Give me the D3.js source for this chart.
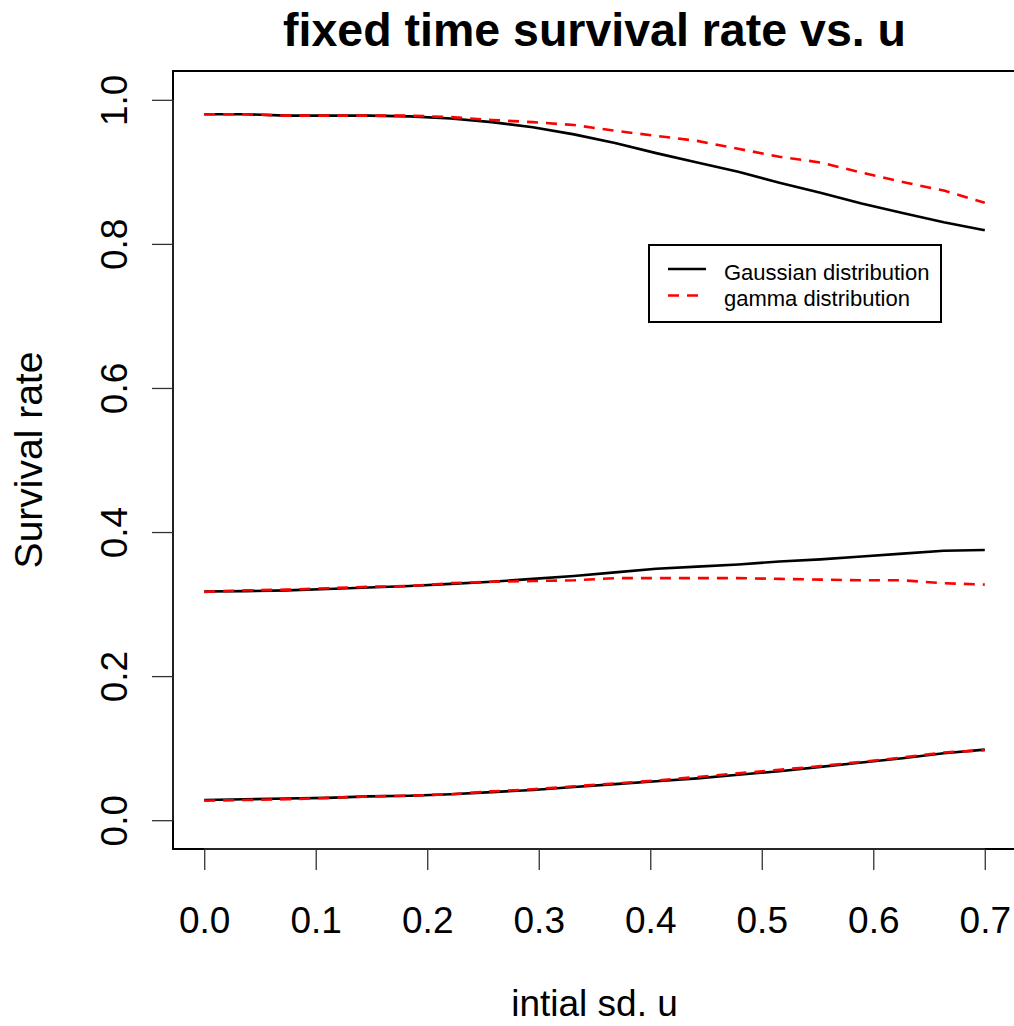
<!DOCTYPE html>
<html>
<head>
<meta charset="utf-8">
<script src="https://cdn.jsdelivr.net/npm/d3@7"></script>
<style>
  html, body { margin: 0; padding: 0; background: #fff; }
  text { font-family: "Liberation Sans", Arial, sans-serif; }
</style>
</head>
<body>
<svg id="chart" width="1014" height="1026"></svg>
<script>
// ---- data ----
const uValues = [0, 0.0368, 0.0737, 0.1105, 0.1474, 0.1842, 0.2211, 0.2579, 0.2947, 0.3316,
                 0.3684, 0.4053, 0.4421, 0.4789, 0.5158, 0.5526, 0.5895, 0.6263, 0.6632, 0.7];

const gaussHigh = [0.980, 0.980, 0.978, 0.978, 0.978, 0.977, 0.974, 0.969, 0.962, 0.952,
                   0.940, 0.926, 0.913, 0.900, 0.885, 0.871, 0.856, 0.843, 0.830, 0.819];
const gammaHigh = [0.980, 0.980, 0.978, 0.978, 0.978, 0.978, 0.976, 0.972, 0.969, 0.965,
                   0.957, 0.950, 0.943, 0.932, 0.921, 0.913, 0.899, 0.886, 0.874, 0.857];

const gaussMid = [0.3175, 0.318, 0.319, 0.321, 0.323, 0.325, 0.328, 0.331, 0.335, 0.339,
                  0.344, 0.349, 0.352, 0.355, 0.359, 0.362, 0.366, 0.370, 0.374, 0.375];
const gammaMid = [0.317, 0.319, 0.320, 0.322, 0.324, 0.325, 0.329, 0.331, 0.332, 0.333,
                  0.336, 0.336, 0.336, 0.336, 0.335, 0.334, 0.333, 0.333, 0.329, 0.327];

const gaussLow = [0.028, 0.029, 0.030, 0.031, 0.033, 0.034, 0.036, 0.039, 0.042, 0.046,
                  0.050, 0.054, 0.058, 0.063, 0.068, 0.074, 0.080, 0.086, 0.093, 0.098];
const gammaLow = [0.027, 0.028, 0.029, 0.031, 0.033, 0.034, 0.036, 0.040, 0.043, 0.047,
                  0.051, 0.055, 0.060, 0.065, 0.070, 0.075, 0.081, 0.087, 0.094, 0.097];

const xTicks = [0, 0.1, 0.2, 0.3, 0.4, 0.5, 0.6, 0.7];
const yTicks = [0, 0.2, 0.4, 0.6, 0.8, 1.0];
const legendLabels = ["Gaussian distribution", "gamma distribution"];

// ---- layout ----
const svg = d3.select("#chart");
const L = 173, R = 1016, T = 71, B = 849;
const x = d3.scaleLinear().domain([-0.028, 0.728]).range([L, R]);
const y = d3.scaleLinear().domain([-0.04, 1.04]).range([B, T]);

const line = d3.line().x((d, i) => x(uValues[i])).y(d => y(d));

const series = [
  { vals: gaussHigh, dash: null, color: "#000" },
  { vals: gaussMid,  dash: null, color: "#000" },
  { vals: gaussLow,  dash: null, color: "#000" },
  { vals: gammaHigh, dash: "11,8", color: "#ff0000" },
  { vals: gammaMid,  dash: "11,8", color: "#ff0000" },
  { vals: gammaLow,  dash: "11,8", color: "#ff0000" }
];

svg.append("g").selectAll("path").data(series).join("path")
  .attr("d", d => line(d.vals))
  .attr("fill", "none")
  .attr("stroke", d => d.color)
  .attr("stroke-width", 2.6)
  .attr("stroke-dasharray", d => d.dash)
  .attr("stroke-linejoin", "round");

// box
svg.append("rect").attr("x", L).attr("y", T).attr("width", R - L).attr("height", B - T)
  .attr("fill", "none").attr("stroke", "#000").attr("stroke-width", 2);

// x axis
const xAxis = d3.axisBottom(x).tickValues(xTicks).tickSize(21).tickPadding(0)
  .tickFormat(d3.format(".1f"));
const gx = svg.append("g").attr("transform", `translate(0,${B})`).call(xAxis);
gx.select(".domain").attr("d", `M${x(0)},0H${x(0.7)}`).attr("stroke", "#333").attr("stroke-width", 1.3);
gx.selectAll(".tick line").attr("stroke", "#333").attr("stroke-width", 1.3);
gx.selectAll(".tick text").attr("y", 84).attr("dy", 0)
  .attr("font-size", 37).attr("fill", "#000")
  .style("font-family", '"Liberation Sans", Arial, sans-serif');

// y axis
const yAxis = d3.axisLeft(y).tickValues(yTicks).tickSize(21).tickPadding(0)
  .tickFormat(d3.format(".1f"));
const gy = svg.append("g").attr("transform", `translate(${L},0)`).call(yAxis);
gy.select(".domain").attr("d", `M0,${y(0)}V${y(1)}`).attr("stroke", "#333").attr("stroke-width", 1.3);
gy.selectAll(".tick line").attr("stroke", "#333").attr("stroke-width", 1.3);
gy.selectAll(".tick text")
  .attr("x", 0).attr("dy", 0)
  .attr("transform", "translate(-46,0) rotate(-90)")
  .attr("text-anchor", "middle")
  .attr("font-size", 37).attr("fill", "#000")
  .style("font-family", '"Liberation Sans", Arial, sans-serif');

// title
svg.append("text").attr("x", (L + R) / 2).attr("y", 46)
  .attr("text-anchor", "middle").attr("font-size", 46).attr("font-weight", "bold")
  .attr("textLength", 623).attr("lengthAdjust", "spacingAndGlyphs")
  .text("fixed time survival rate vs. u");

// axis labels
svg.append("text").attr("x", (L + R) / 2).attr("y", 1016)
  .attr("text-anchor", "middle").attr("font-size", 37)
  .text("intial sd. u");

svg.append("text")
  .attr("transform", `translate(42,${(T + B) / 2}) rotate(-90)`)
  .attr("text-anchor", "middle").attr("font-size", 39)
  .text("Survival rate");

// legend
const lg = svg.append("g");
lg.append("rect").attr("x", 649).attr("y", 245).attr("width", 292).attr("height", 77)
  .attr("fill", "#fff").attr("stroke", "#000").attr("stroke-width", 2);
const legendStyles = [{ color: "#000", dash: null }, { color: "#ff0000", dash: "11,8" }];
legendLabels.forEach((lab, i) => {
  const yy = 269 + i * 26.5;
  lg.append("line").attr("x1", 668).attr("x2", 706).attr("y1", yy).attr("y2", yy)
    .attr("stroke", legendStyles[i].color).attr("stroke-width", 2.6)
    .attr("stroke-dasharray", legendStyles[i].dash);
  lg.append("text").attr("x", 724).attr("y", yy + 10.5)
    .attr("font-size", 22).text(lab);
});
</script>
</body>
</html>
